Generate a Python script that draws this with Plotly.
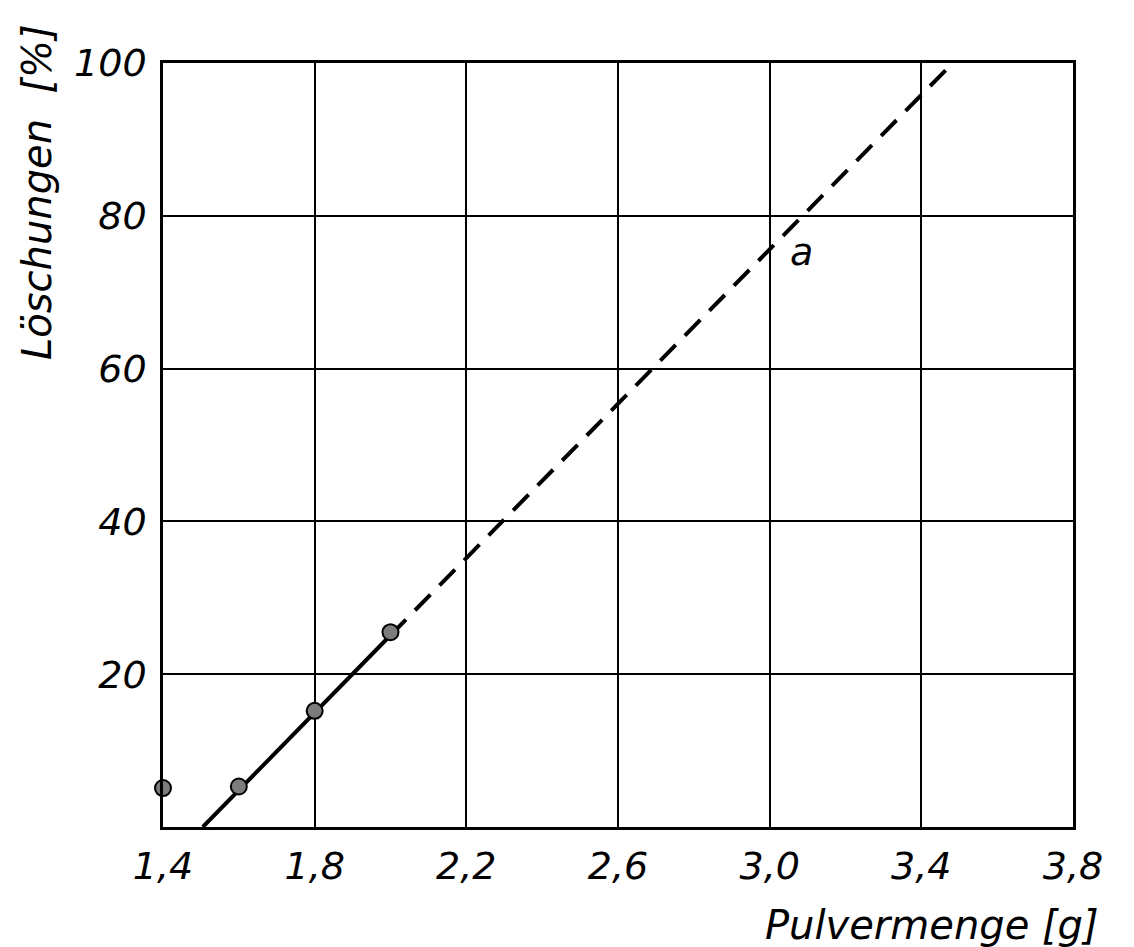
import plotly.graph_objects as go

# Measured points
pulver = [1.4, 1.6, 1.8, 2.0]
loeschung = [5.1, 5.3, 15.2, 25.5]

# Fitted line "a": solid over the measured range, dashed extrapolation
fit_solid_x = [1.505, 2.0]
fit_solid_y = [0.0, 25.1]
fit_dash_x = [2.0, 3.465]
fit_dash_y = [25.1, 99.1]

x_ticks = [1.4, 1.8, 2.2, 2.6, 3.0, 3.4, 3.8]
x_ticktext = ["1,4", "1,8", "2,2", "2,6", "3,0", "3,4", "3,8"]
y_ticks = [20, 40, 60, 80, 100]
y_ticktext = ["20", "40", "60", "80", "100"]

FONT = "DejaVu Sans"
tick_font = dict(family=FONT, size=38, color="black", style="italic")
title_font = dict(family=FONT, size=40, color="black", style="italic")

W, H = 1134, 947
L, R, T, B = 163, 61, 63, 120


def px_to_paper(px, py):
    """Convert a pixel position on the page to paper coordinates."""
    return (px - L) / (W - L - R), (H - B - py) / (H - T - B)


fig = go.Figure()

fig.add_trace(go.Scatter(
    x=fit_solid_x, y=fit_solid_y, mode="lines",
    line=dict(color="black", width=4),
    hoverinfo="skip", showlegend=False,
))
fig.add_trace(go.Scatter(
    x=fit_dash_x, y=fit_dash_y, mode="lines",
    line=dict(color="black", width=4, dash="22px,13px"),
    hoverinfo="skip", showlegend=False,
))
fig.add_trace(go.Scatter(
    x=pulver, y=loeschung, mode="markers",
    marker=dict(symbol="circle", size=16, color="#7c7c7c",
                line=dict(color="black", width=2)),
    cliponaxis=False, showlegend=False,
))

# Curve label
fig.add_annotation(
    x=3.085, y=75.3, xref="x", yref="y", text="a", showarrow=False,
    xanchor="center", yanchor="middle",
    font=dict(family=FONT, size=38, color="black", style="italic"),
)

# Axis titles
yx, yy = px_to_paper(37, 192)
fig.add_annotation(
    x=yx, y=yy, xref="paper", yref="paper", text="Löschungen  [%]",
    showarrow=False, textangle=-90, xanchor="center", yanchor="middle",
    font=title_font,
)
xx, xy = px_to_paper(932, 925)
fig.add_annotation(
    x=xx, y=xy, xref="paper", yref="paper", text="Pulvermenge [g]",
    showarrow=False, xanchor="center", yanchor="middle",
    font=title_font,
)

fig.update_xaxes(
    range=[1.4, 3.8], tickvals=x_ticks, ticktext=x_ticktext,
    showgrid=True, gridcolor="black", gridwidth=2,
    showline=True, linecolor="black", linewidth=2.5, mirror=True,
    zeroline=False, ticks="", tickfont=tick_font, ticklabelstandoff=4,
)
fig.update_yaxes(
    range=[0, 100], tickvals=y_ticks, ticktext=y_ticktext,
    showgrid=True, gridcolor="black", gridwidth=2,
    showline=True, linecolor="black", linewidth=2.5, mirror=True,
    zeroline=False, ticks="", tickfont=tick_font, ticklabelstandoff=6,
)

fig.update_layout(
    width=W, height=H,
    margin=dict(l=L, r=R, t=T, b=B),
    paper_bgcolor="white", plot_bgcolor="white",
)

fig.write_html("out.html")
